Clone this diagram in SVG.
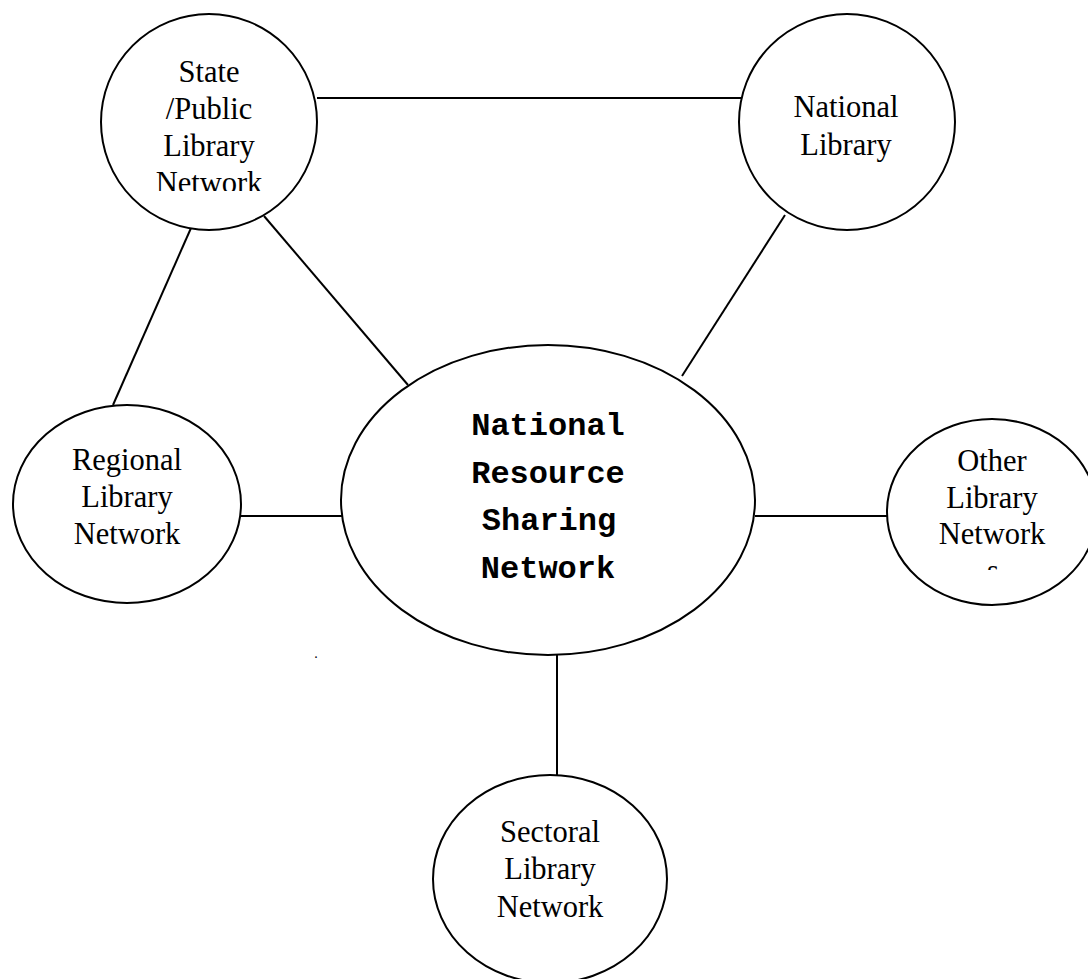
<svg xmlns="http://www.w3.org/2000/svg" width="1088" height="979" viewBox="0 0 1088 979">
<style>
.shape{fill:#fff;stroke:#000;stroke-width:2}
.lbl{font-family:"Liberation Serif","Times New Roman",serif;font-size:30.5px;fill:#000;text-anchor:middle}
.core{font-family:"Liberation Mono","Courier New",monospace;font-size:32px;font-weight:bold;fill:#000;text-anchor:middle}
.conn line{stroke:#000;stroke-width:2}
</style>
<defs>
<clipPath id="clipState"><rect x="0" y="0" width="400" height="191"/></clipPath>
<clipPath id="clipOther"><rect x="880" y="400" width="208" height="170"/></clipPath>
</defs>
<rect width="1088" height="979" fill="#fff"/>
<g id="connectors" class="conn">
<line x1="317" y1="98" x2="741" y2="98"/>
<line x1="191" y1="228" x2="113" y2="405"/>
<line x1="264" y1="216" x2="408" y2="385"/>
<line x1="785" y1="215" x2="682" y2="376"/>
<line x1="241" y1="516" x2="342" y2="516"/>
<line x1="755" y1="516" x2="887" y2="516"/>
<line x1="557" y1="655" x2="557" y2="776"/>
</g>
<g id="state">
<circle class="shape" cx="209" cy="122" r="108"/>
<g clip-path="url(#clipState)">
<text class="lbl" x="209" y="82">State</text>
<text class="lbl" x="209" y="119">/Public</text>
<text class="lbl" x="209" y="156">Library</text>
<text class="lbl" x="209" y="193">Network</text>
</g>
</g>
<g id="national">
<circle class="shape" cx="847" cy="122" r="108"/>
<text class="lbl" x="846" y="117">National</text>
<text class="lbl" x="846" y="155">Library</text>
</g>
<g id="regional">
<ellipse class="shape" cx="127" cy="504" rx="114" ry="99"/>
<text class="lbl" x="127" y="470">Regional</text>
<text class="lbl" x="127" y="507">Library</text>
<text class="lbl" x="127" y="544">Network</text>
</g>
<g id="other">
<ellipse class="shape" cx="992" cy="512" rx="105" ry="93"/>
<text class="lbl" x="992" y="471">Other</text>
<text class="lbl" x="992" y="508">Library</text>
<text class="lbl" x="992" y="544">Network</text>
<g clip-path="url(#clipOther)">
<text class="lbl" x="993" y="581">s</text>
</g>
</g>
<g id="core">
<ellipse class="shape" cx="548" cy="500" rx="207" ry="155"/>
<text class="core" x="548" y="435">National</text>
<text class="core" x="548" y="483">Resource</text>
<text class="core" x="549" y="530">Sharing</text>
<text class="core" x="548" y="578">Network</text>
</g>
<g id="sectoral">
<ellipse class="shape" cx="550" cy="879" rx="117" ry="104"/>
<text class="lbl" x="550" y="842">Sectoral</text>
<text class="lbl" x="550" y="879">Library</text>
<text class="lbl" x="550" y="917">Network</text>
</g>
<text x="316" y="658" style="font-family:'Liberation Serif',serif;font-size:14px;text-anchor:middle">.</text>
</svg>
